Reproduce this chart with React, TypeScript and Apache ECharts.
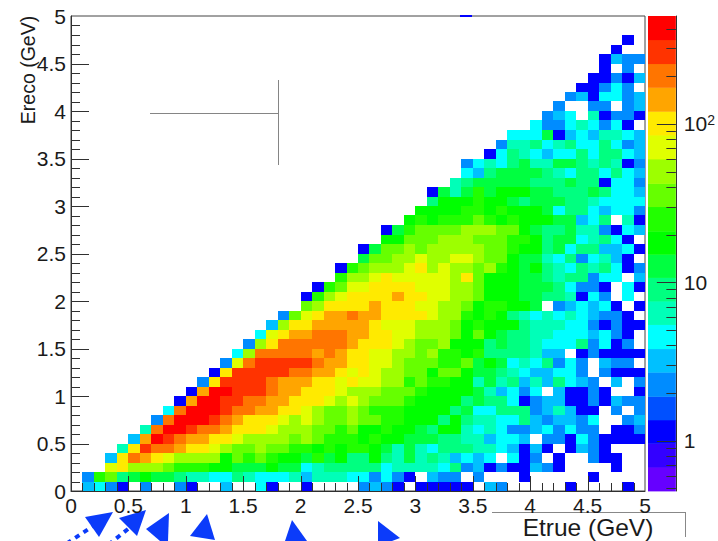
import React, { useEffect, useRef } from "react";
import * as echarts from "echarts";

// ---- Colour bands (low to high), read from the palette on the right
const bandEdges = [0.48, 0.68, 0.96, 1.35, 1.9, 2.7, 3.8, 5.4, 7.6, 10.7, 15, 21, 30, 42, 60, 85, 120, 170, 240, 340, 480];
const bandColors = ["#6600ff", "#3300ff", "#0000ff", "#0050ff", "#008cff", "#00c0ff", "#00ffff", "#00ffb8", "#00ff80", "#00ff40", "#00ff00", "#22ff00", "#66ff00", "#9dff00", "#e0ff00", "#ffea00", "#ffa500", "#ff7500", "#ff3300", "#ff0000"];
// Representative count of each band; letters a..t in the rows below index this list
const bandCounts = [0.55, 0.8, 1, 1.6, 2.3, 3.2, 4.5, 6.5, 9, 13, 18, 25, 36, 50, 72, 100, 145, 205, 290, 410];
const bandLetters = "abcdefghijklmnopqrst";

const binWidth = 0.1;
const axisMajorTicks = [0.5, 1, 1.5, 2, 2.5, 3, 3.5, 4, 4.5];
const axisMinorTicks = [0.1, 0.2, 0.3, 0.4, 0.6, 0.7, 0.8, 0.9, 1.1, 1.2, 1.3, 1.4, 1.6, 1.7, 1.8, 1.9, 2.1, 2.2, 2.3, 2.4, 2.6, 2.7, 2.8, 2.9, 3.1, 3.2, 3.3, 3.4, 3.6, 3.7, 3.8, 3.9, 4.1, 4.2, 4.3, 4.4, 4.6, 4.7, 4.8, 4.9];
const paletteMajorTicks = [1, 10, 100];
const paletteMinorTicks = [0.5, 0.6, 0.7, 0.8, 0.9, 2, 3, 4, 5, 6, 7, 8, 9, 20, 30, 40, 50, 60, 70, 80, 90, 200, 300, 400];

// First filled Etrue bin of each Ereco row (bottom row first)
const rowStarts = [0, 1, 3, 3, 4, 5, 6, 7, 8, 9, 10, 11, 12, 13, 14, 15, 16, 17, 18, 20, 20, 21, 23, 23, 25, 25, 27, 27, 29, 30, 31, 31, 33, 34, 34, 36, 37, 38, 40, 41, 42, 43, 44, 45, 46, 46, 47, 48];
// Colour band of each bin, read per row; "." is an empty bin
const rowBands = [
  ".fgec.e..ec..f..gc..c....efec.ccccc.fe.....c....c.",
  "elmijkjjihhggihggghfhhhggegec.fee.e...c.....c....",
  "opnnnmlllkkjjjkjjghiiiiighhhhgiefcecc" + "fec....c..",
  "fprqponnnnkmlmlkkjljkiikihjhihfgfg.gce.c..ecc..",
  "hpsrrqpponmmnmmllklkllkjhjhgiiihhgfcfc.cfec...",
  "fqtsrqqpponnnnmnmlllklkkjjjiihhfggf.eecgecccc",
  "hrttsrrqpppo" + "nnnmmlm" + "kklkkjikkhghgeefgegee.cce",
  "ertttsrqpppono" + "nmmnmmllkkk" + "ikihhggifeffeg..ef",
  "grtttsrrqqppon" + "mmnmlllkkkk" + "ijggiiiefhfcc.e.e",
  "cqttssrrqqpppono" + "nmmmlkkkk" + "ijiig" + "ceffccecfee",
  "cqttsssrqqpppon" + "nnmmmlkkkkjhfgeg.fccec..c",
  "epssssrqqqppop" + "oonnlmllkkhjhifhfigfe.f.e",
  "cpsssssrrqqpo" + "ponnmmkmmkjjihgffgge.eccc",
  "eorsssssrqqp" + "poonmmmllmjkjghgiege.fee.",
  "gnrrrrrqrqp" + "poonnmnllkl" + "iiiihff.cecccc",
  "enprrrrrrq" + "pppo" + "nmmnkkk" + "ijiihgggiegce.",
  "gopqqrrrq" + "qppoonnnmkmkjiihhgggfgec.",
  "fnppqqqq" + "qpooonnnmklkkkihhhggececc",
  "emopqqr" + "qqppppo" + "nnlklkihghghgfeec.",
  "mnpppp" + "qpppoonnmkllkkj.efgfgc.c",
  "clnop" + "pppqppoonnmkkkjjiihcge.g.",
  "clmo" + "oppppooonnmkkkjjjigeec.gc",
  "ln" + "nopooooo" + "npm" + "kkkjjihiiegg.f",
  "clmnnnopnonnmnlkjkihgihigce",
  "jmmnnonnoonmmkjjhgieghfc.",
  "cjmmnmnnnnnmmlkkijgiiffgc",
  "kkmmmnnnmmmllkijjghigc.",
  "cjlmmmmnnnmmkjiijhhecgf",
  "klklllmlklkkkjjfgi.hc",
  "kkkkllklkkkjgiigfgge",
  "ikkklkkjijjjiihgggg",
  "cjhjljkkkjjiiijiggf",
  "hijjjjjiiijiicgge",
  "gfijjjjihgiigigf",
  "eghgijhhjjihihce",
  "cgihgfggigiigf",
  "ehhighiggigef",
  "gggjcfgfhhgf",
  "geeghgegc.",
  "efg.hceec",
  "e..ee.ef",
  "efcggef",
  "ccege.",
  "ccecf",
  "c.e.",
  "cfee",
  "c",
  "c",
];

const cells: number[][] = [];
rowBands.forEach((row, j) => {
  row.split("").forEach((ch, c) => {
    const band = bandLetters.indexOf(ch);
    if (band < 0) return;
    const i = rowStarts[j] + c;
    cells.push([i * binWidth, (i + 1) * binWidth, j * binWidth, (j + 1) * binWidth, bandCounts[band]]);
  });
});

const paletteBands = bandColors.map((_, k) => [bandEdges[k], bandEdges[k + 1], k]);

const colorOf = (count: number) => {
  for (let k = 0; k < bandColors.length; k++) if (count < bandEdges[k + 1]) return bandColors[k];
  return bandColors[bandColors.length - 1];
};

const FONT = '"Liberation Sans", Arial, sans-serif';
const INK = "#1a1a1a";
const BLUE = "#0b3bfa";
const TICK = "#303030";

export default function App() {
  const ref = useRef<HTMLDivElement>(null);
  useEffect(() => {
    const chart = echarts.init(ref.current!, undefined, { renderer: "svg" });
    const arrowStyle = { fill: BLUE };
    const valueAxis = (extra: any) => ({
      type: "value",
      min: 0,
      max: 5,
      interval: 0.5,
      splitLine: { show: false },
      axisLine: { show: true, onZero: false, lineStyle: { color: TICK, width: 1 } },
      axisTick: { show: false },
      ...extra,
    });
    chart.setOption({
      animation: false,
      backgroundColor: "#fff",
      grid: [
        { left: 71, top: 16, width: 574, height: 475, show: true, borderColor: "#444", borderWidth: 1, backgroundColor: "transparent" },
        { left: 648, top: 16, width: 34, height: 475 },
      ],
      xAxis: [
        valueAxis({
          gridIndex: 0,
          axisLabel: { color: INK, fontFamily: FONT, fontSize: 21, margin: 4, formatter: (v: number) => String(v) },
        }),
        { type: "value", gridIndex: 1, min: 0, max: 1, show: false },
      ],
      yAxis: [
        valueAxis({
          gridIndex: 0,
          axisLabel: { color: INK, fontFamily: FONT, fontSize: 21, margin: 5, formatter: (v: number) => String(v) },
        }),
        {
          type: "log",
          logBase: 10,
          gridIndex: 1,
          min: bandEdges[0],
          max: bandEdges[bandEdges.length - 1],
          position: "right",
          splitLine: { show: false },
          axisLine: { show: true, onZero: false, lineStyle: { color: TICK, width: 1 } },
          axisTick: { show: false },
          minorTick: { show: false },
          axisLabel: {
            customValues: paletteMajorTicks,
            margin: 8,
            color: INK,
            fontFamily: FONT,
            fontSize: 21,
            formatter: (v: number) => (v >= 100 ? "10{sup|2}" : String(Math.round(v))),
            rich: { sup: { fontFamily: FONT, fontSize: 14, color: INK, verticalAlign: "top", padding: [0, 0, 8, 0] } },
          },
        },
      ],
      series: [
        {
          type: "custom",
          xAxisIndex: 0,
          yAxisIndex: 0,
          clip: true,
          encode: { x: [0, 1], y: [2, 3] },
          data: cells,
          renderItem: (_: any, api: any) => {
            const a = api.coord([api.value(0), api.value(2)]);
            const b = api.coord([api.value(1), api.value(3)]);
            const x = Math.round(a[0]);
            const y = Math.round(b[1]);
            return {
              type: "rect",
              shape: { x, y, width: Math.round(b[0]) - x, height: Math.round(a[1]) - y },
              style: { fill: colorOf(api.value(4)) },
            };
          },
        },
        {
          type: "custom",
          xAxisIndex: 1,
          yAxisIndex: 1,
          encode: { y: [0, 1] },
          data: paletteBands,
          renderItem: (_: any, api: any) => {
            const a = api.coord([0, api.value(0)]);
            const b = api.coord([1, api.value(1)]);
            return {
              type: "rect",
              shape: { x: a[0], y: b[1], width: b[0] - a[0], height: a[1] - b[1] + 0.4 },
              style: { fill: bandColors[api.value(2)] },
            };
          },
        },
      ],
    });

    // Tick marks are placed through the axes' own scales, above the cells
    const tickLine = (x1: number, y1: number, x2: number, y2: number) => ({
      type: "line",
      z: 50,
      silent: true,
      shape: { x1, y1, x2, y2 },
      style: { stroke: TICK, lineWidth: 1 },
    });
    const xBase = chart.convertToPixel({ yAxisIndex: 0 }, 0) as number;
    const yBase = chart.convertToPixel({ xAxisIndex: 0 }, 0) as number;
    const paletteRight = chart.convertToPixel({ xAxisIndex: 1 }, 1) as number;
    const xTick = (v: number, len: number) => {
      const x = Math.round(chart.convertToPixel({ xAxisIndex: 0 }, v) as number) + 0.5;
      return tickLine(x, xBase, x, xBase - len);
    };
    const yTick = (v: number, len: number) => {
      const y = Math.round(chart.convertToPixel({ yAxisIndex: 0 }, v) as number) + 0.5;
      return tickLine(yBase, y, yBase + len, y);
    };
    const paletteTick = (v: number, len: number) => {
      const y = Math.round(chart.convertToPixel({ yAxisIndex: 1 }, v) as number) + 0.5;
      return tickLine(paletteRight, y, paletteRight - len, y);
    };
    const tickElements = [
      ...axisMajorTicks.map((v) => xTick(v, 15)),
      ...axisMinorTicks.map((v) => xTick(v, 8)),
      ...axisMajorTicks.map((v) => yTick(v, 18)),
      ...axisMinorTicks.map((v) => yTick(v, 9)),
      ...paletteMajorTicks.map((v) => paletteTick(v, 19)),
      ...paletteMinorTicks.map((v) => paletteTick(v, 9.5)),
    ];

    chart.setOption({
      graphic: [
        { type: "text", x: 28, y: 70, rotation: Math.PI / 2, style: { text: "Ereco (GeV)", fontFamily: FONT, fontSize: 19.5, fill: INK, align: "center", verticalAlign: "middle" } },
        { type: "text", x: 588, y: 527, style: { text: "Etrue (GeV)", fontFamily: FONT, fontSize: 24.5, fill: INK, align: "center", verticalAlign: "middle" } },
        { type: "line", shape: { x1: 150, y1: 113.5, x2: 278, y2: 113.5 }, style: { stroke: "#666", lineWidth: 0.8 } },
        { type: "line", shape: { x1: 278.5, y1: 80, x2: 278.5, y2: 165 }, style: { stroke: "#666", lineWidth: 0.8 } },
        { type: "line", shape: { x1: 492, y1: 512.5, x2: 685, y2: 512.5 }, style: { stroke: "#888", lineWidth: 1 } },
        { type: "line", shape: { x1: 685.5, y1: 512, x2: 685.5, y2: 537 }, style: { stroke: "#888", lineWidth: 1 } },
        { type: "rect", shape: { x: 460, y: 15, width: 12, height: 2 }, style: { fill: "#0000ff" } },
        { type: "line", shape: { x1: 96, y1: 524, x2: 66, y2: 544 }, style: { stroke: BLUE, lineWidth: 4, lineDash: [5, 5] } },
        { type: "line", shape: { x1: 128, y1: 529, x2: 108, y2: 545 }, style: { stroke: BLUE, lineWidth: 4, lineDash: [5, 5] } },
        { type: "polygon", shape: { points: [[113, 512], [85, 517], [99, 537]] }, style: arrowStyle },
        { type: "polygon", shape: { points: [[146, 510], [119, 518], [137, 536]] }, style: arrowStyle },
        { type: "polygon", shape: { points: [[146, 529], [169, 513], [168, 541], [160, 541]] }, style: arrowStyle },
        { type: "polygon", shape: { points: [[207, 514], [190, 536], [215, 540]] }, style: arrowStyle },
        { type: "polygon", shape: { points: [[292, 520], [285, 541], [307, 541]] }, style: arrowStyle },
        { type: "polygon", shape: { points: [[378, 521], [400, 538], [392, 541], [378, 541]] }, style: arrowStyle },
        ...tickElements,
      ],
    });
    return () => chart.dispose();
  }, []);
  return <div ref={ref} style={{ position: "absolute", left: 0, top: 0, width: 718, height: 541 }} />;
}
